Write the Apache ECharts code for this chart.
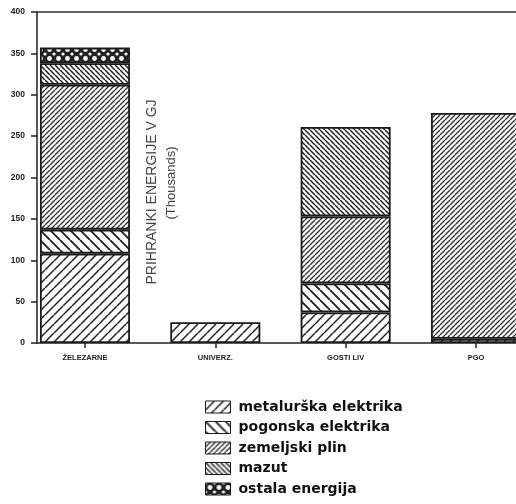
<!DOCTYPE html>
<html>
<head>
<meta charset="utf-8">
<script src="https://cdn.jsdelivr.net/npm/echarts@6/dist/echarts.min.js"></script>
<style>
  html, body { margin: 0; padding: 0; background: #fff; }
  #chart { width: 516px; height: 504px; }
</style>
</head>
<body>
<div id="chart"></div>
<script>
// categories (labels on the scan are barely legible)
var categories = ['ŽELEZARNE', 'UNIVERZ.', 'GOSTI LIV', 'PGO'];
var yTicks = [0, 50, 100, 150, 200, 250, 300, 350, 400];

// thousands of GJ, bottom to top
var metalurska = [108, 25, 37, 5];
var pogonska = [29, null, 35, null];
var zemeljski = [175, null, 81, 273];
var mazut = [26, null, 108, null];
var ostala = [19, null, null, null];

function hatch(size, dir, lw, color) {
  var c = document.createElement('canvas');
  c.width = size; c.height = size;
  var ctx = c.getContext('2d');
  ctx.fillStyle = '#fff';
  ctx.fillRect(0, 0, size, size);
  ctx.strokeStyle = color;
  ctx.lineWidth = lw;
  ctx.beginPath();
  for (var k = -1; k <= 1; k++) {
    if (dir > 0) {
      ctx.moveTo(k * size, size); ctx.lineTo(k * size + size, 0);
    } else {
      ctx.moveTo(k * size, 0); ctx.lineTo(k * size + size, size);
    }
  }
  ctx.stroke();
  return { image: c, repeat: 'repeat' };
}

function dots() {
  var s = 9;
  var c = document.createElement('canvas');
  c.width = s; c.height = s;
  var ctx = c.getContext('2d');
  ctx.fillStyle = '#222';
  ctx.fillRect(0, 0, s, s);
  ctx.fillStyle = '#fff';
  ctx.beginPath();
  ctx.arc(s / 2, s / 2, 2.4, 0, Math.PI * 2);
  ctx.fill();
  [[0, 0], [s, 0], [0, s], [s, s]].forEach(function (p) {
    ctx.beginPath();
    ctx.arc(p[0], p[1], 1.6, 0, Math.PI * 2);
    ctx.fill();
  });
  return { image: c, repeat: 'repeat' };
}

var patterns = [
  hatch(9, 1, 1.5, '#222'),
  hatch(10, -1, 1.9, '#222'),
  hatch(5, 1, 1.4, '#333'),
  hatch(5, -1, 1.5, '#222'),
  dots()
];
var names = ['metalurška elektrika', 'pogonska elektrika', 'zemeljski plin', 'mazut', 'ostala energija'];
var values = [metalurska, pogonska, zemeljski, mazut, ostala];

var chart = echarts.init(document.getElementById('chart'));

// value first so the stack sums the heights; category index second
var series = names.map(function (n, si) {
  return {
    name: n,
    type: 'bar',
    stack: 'total',
    barWidth: 90,
    encode: { x: 1, y: 0 },
    data: values[si].map(function (v, i) { return [v == null ? '-' : v, i]; }),
    itemStyle: {
      color: patterns[si],
      borderColor: '#1a1a1a',
      borderWidth: 1.8
    }
  };
});

var option = {
  backgroundColor: '#fff',
  animation: false,
  grid: { left: 37, top: 12, bottom: 161, right: 0 },
  legend: {
    orient: 'vertical',
    left: 205,
    top: 400,
    padding: 0,
    icon: 'rect',
    itemWidth: 25,
    itemHeight: 12,
    itemGap: 6.5,
    textStyle: { fontFamily: 'DejaVu Sans', fontWeight: 'bold', fontSize: 14, color: '#111', lineHeight: 14, padding: [0, 0, 0, 3] },
    itemStyle: { borderColor: '#1a1a1a', borderWidth: 1 },
    data: names
  },
  xAxis: [{
    type: 'value',
    min: -0.368,
    max: 3.307,
    axisLine: { show: true, lineStyle: { color: '#222', width: 1.5 } },
    axisTick: { show: true, length: 5, customValues: [0, 1, 2, 3], lineStyle: { color: '#222', width: 1.5 } },
    axisLabel: {
      customValues: [0, 1, 2, 3],
      margin: 11,
      fontSize: 7.5,
      fontWeight: 'bold',
      color: '#222',
      formatter: function (v) { return categories[Math.round(v)]; }
    },
    splitLine: { show: false }
  }, {
    type: 'value',
    position: 'top',
    min: -0.368,
    max: 3.307,
    axisLine: { show: true, lineStyle: { color: '#333', width: 1.5 } },
    axisTick: { show: false },
    axisLabel: { show: false },
    splitLine: { show: false }
  }],
  yAxis: {
    type: 'value',
    min: 0,
    max: 400,
    interval: 50,
    axisLine: { show: true, onZero: false, lineStyle: { color: '#222', width: 1.5 } },
    axisTick: { show: true, length: 6, lineStyle: { color: '#222', width: 1.5 } },
    axisLabel: {
      margin: 12,
      fontSize: 8.5,
      fontWeight: 'bold',
      color: '#222',
      formatter: function (v) { return yTicks.indexOf(v) >= 0 ? String(v) : ''; }
    },
    splitLine: { show: false }
  },
  graphic: [{
    type: 'text',
    x: 152,
    y: 192,
    rotation: Math.PI / 2,
    style: {
      text: 'PRIHRANKI ENERGIJE V GJ',
      fontFamily: 'Liberation Sans',
      fontSize: 14,
      fill: '#444',
      align: 'center',
      verticalAlign: 'middle'
    }
  }, {
    type: 'text',
    x: 171,
    y: 183,
    rotation: Math.PI / 2,
    style: {
      text: '(Thousands)',
      fontFamily: 'Liberation Sans',
      fontSize: 13,
      fill: '#444',
      align: 'center',
      verticalAlign: 'middle'
    }
  }],
  series: series
};

chart.setOption(option);
</script>
</body>
</html>
